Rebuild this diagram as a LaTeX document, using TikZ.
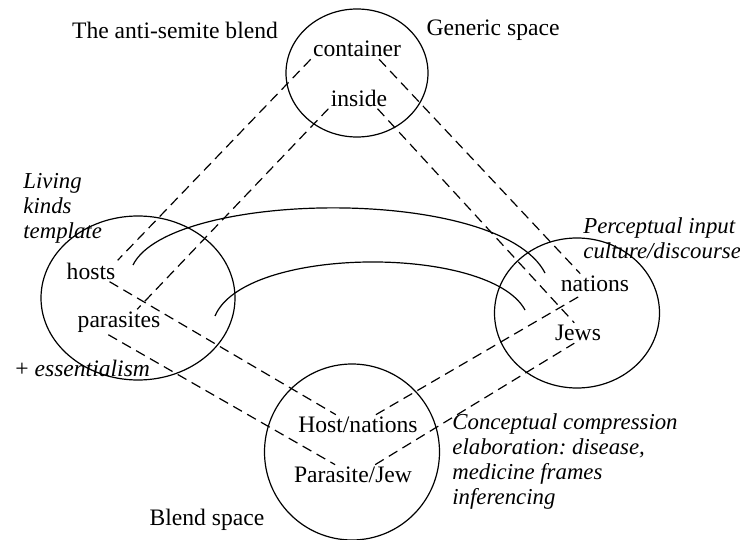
\documentclass[tikz,border=0pt]{standalone}
\usepackage{fontspec}
\setmainfont{Liberation Serif}
\usetikzlibrary{shapes.geometric}
\tikzset{
	space/.style={draw, ellipse, line width=0.6pt, inner sep=0pt},
	item/.style={inner sep=1pt, font=\fontsize{11.8}{13}\selectfont},
	note/.style={inner sep=0pt, align=left, font=\fontsize{11.4}{12.5}\selectfont\itshape},
	link/.style={dash pattern=on 5pt off 3pt, line width=0.6pt},
	bond/.style={line width=0.6pt}
}
\frenchspacing
\begin{document}
\begin{tikzpicture}[x=0.5pt,y=-0.5pt]
	\useasboundingbox (0,0) rectangle (740,540);
	% spaces
	\node[space, minimum width=71pt, minimum height=64pt] (generic) at (357,73) {};
	\node[space, minimum width=97pt, minimum height=82pt] (living) at (138,298) {};
	\node[space, minimum width=82.5pt, minimum height=75pt] (percept) at (577,313) {};
	\node[space, minimum width=87.5pt, minimum height=88pt] (blend) at (352,452) {};
	% elements
	\node[item] (container) at (357,49) {container};
	\node[item] (inside) at (359,98) {inside};
	\node[item] (hosts) at (91,271) {hosts};
	\node[item] (parasites) at (119,322) {parasites};
	\node[item] (nations) at (595,284) {nations};
	\node[item] (jews) at (578,333) {Jews};
	\node[item] (hostnations) at (358,425) {Host/nations};
	\node[item] (parasitejew) at (353,475) {Parasite/Jew};
	% labels
	\node[item] (title) at (175,30) {The anti-semite blend};
	\node[item] (genericlabel) at (493,30) {Generic space};
	\node[item] (blendlabel) at (207,520) {Blend space};
	\node[note, anchor=west] (livinglabel) at (23,208) {Living\\kinds\\template};
	\node[item, inner sep=0pt, anchor=west] (essence) at (15,368) {+ \textit{essentialism}};
	\node[note, anchor=west] (perceptlabel) at (583,238) {Perceptual input\\culture/discourse};
	\node[note, anchor=west] (compression) at (452,462) {Conceptual compression\\elaboration: disease,\\medicine frames\\inferencing};
	% mappings
	\draw[link] (container.south west) -- (hosts.north east);
	\draw[link] (inside.south west) -- (parasites.35);
	\draw[link] (container.-25) -- (nations.145);
	\draw[link] (inside.-30) -- (jews.110);
	\draw[link] (hosts.-30) -- (hostnations.155);
	\draw[link] (parasites.-130) -- (parasitejew.150);
	\draw[link] (hostnations.30) -- (nations.-140);
	\draw[link] (parasitejew.25) -- (jews.-110);
	% cross-space links
	\coordinate (hostsend) at (133,265);
	\coordinate (nationsend) at (545,273);
	\coordinate (parasitesend) at (215,316);
	\coordinate (jewsend) at (525,310);
	\draw[bond] (hostsend) .. controls (170,190) and (500,185) .. (nationsend);
	\draw[bond] (parasitesend) .. controls (245,245) and (490,245) .. (jewsend);
\end{tikzpicture}
\end{document}
